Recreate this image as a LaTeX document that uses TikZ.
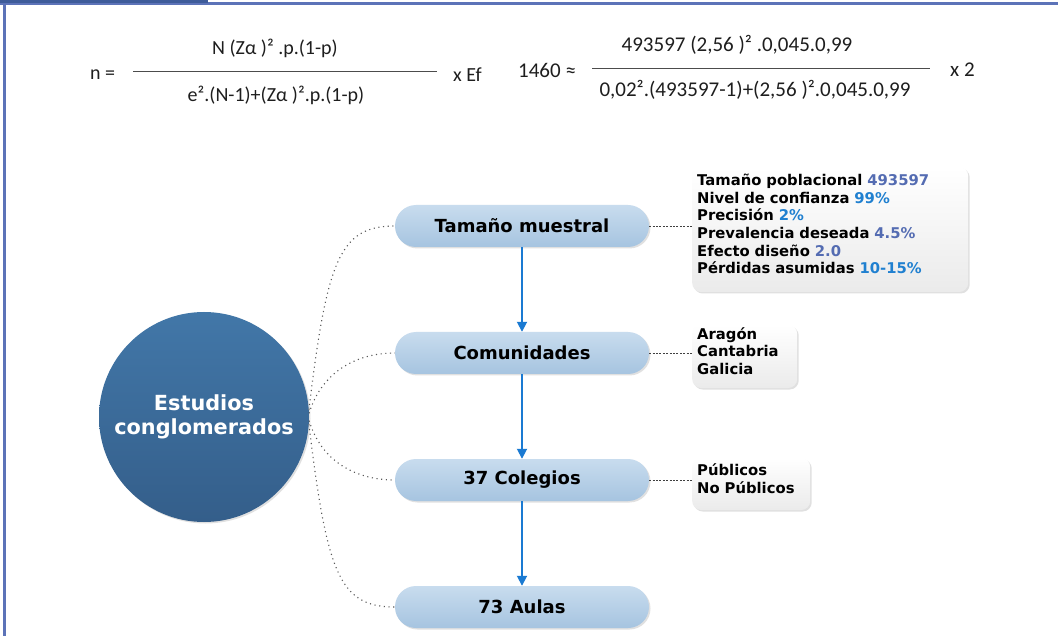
\documentclass[tikz,border=0pt]{standalone}
\usepackage{fontspec}
\setmainfont{DejaVu Sans}
\newfontfamily\calib{Carlito}
\usetikzlibrary{shadows,arrows.meta}
\definecolor{frameblue}{RGB}{92,115,184}
\definecolor{framedark}{RGB}{62,92,154}
\definecolor{boxtop}{RGB}{200,220,238}
\definecolor{boxbot}{RGB}{166,196,224}
\definecolor{circtop}{RGB}{66,119,168}
\definecolor{circbot}{RGB}{52,94,138}
\definecolor{arrowblue}{RGB}{26,122,210}
\definecolor{valslate}{RGB}{84,108,178}
\definecolor{valblue}{RGB}{32,128,208}
\definecolor{formtext}{RGB}{30,30,30}
\newcommand{\lowstrut}{\rule[-11pt]{0pt}{1pt}}
\begin{document}
\begin{tikzpicture}[x=1pt,y=-1pt,
  stagebox/.style={rounded corners=21pt, minimum width=254pt, minimum height=42pt,
    top color=boxtop, bottom color=boxbot, draw=none, inner sep=0pt,
    font=\bfseries\fontsize{18}{21}\selectfont,
    drop shadow={shadow xshift=1.5pt, shadow yshift=-1.5pt, opacity=0.2, fill=black!60}},
  infobox/.style={rounded corners=9pt, top color=white, bottom color=black!8,
    draw=none, align=left, inner xsep=5pt, inner ysep=0pt, anchor=west,
    font=\bfseries\fontsize{14.8}{17.6}\selectfont,
    drop shadow={shadow xshift=1.5pt, shadow yshift=-1.5pt, opacity=0.2, fill=black!60}},
  flowarrow/.style={draw=arrowblue, line width=1.8pt, -{Triangle[width=10pt,length=10pt]}},
  dotlink/.style={draw=black!65, line width=1.1pt, dash pattern=on 1.1pt off 3.6pt},
  dashlink/.style={draw=black!75, line width=0.9pt, dash pattern=on 2pt off 1.4pt},
  form1/.style={font=\calib\fontsize{20}{22}\selectfont, text=formtext, inner sep=0pt},
  form2/.style={font=\calib\fontsize{21}{24}\selectfont, text=formtext, inner sep=0pt},
  fracline/.style={draw=black!70, line width=0.9pt}
]
\useasboundingbox (0,0) rectangle (1058,636);
\fill[white] (0,0) rectangle (1058,636);
% frame
\fill[frameblue] (2.5,0) rectangle (6,636);
\fill[frameblue] (0,2) rectangle (1058,5);
\fill[framedark] (0,0) rectangle (208,3);

% formula 1
\node[form1, anchor=west] (n1) at (90,75) {n =};
\node[form1] (num1) at (275,48) {N (Zα )² .p.(1-p)};
\node[form1] (den1) at (276,95) {e².(N-1)+(Zα )².p.(1-p)};
\coordinate (f1a) at (133,71);
\coordinate (f1b) at (437,71);
\draw[fracline] (f1a) -- (f1b);
\node[form1, anchor=west] (ef) at (453,75) {x Ef};

% formula 2
\node[form2, anchor=west] (n2) at (518,70) {1460 ≈};
\node[form2] (num2) at (737,45) {493597 (2,56 )² .0,045.0,99};
\node[form2] (den2) at (755,90) {0,02².(493597-1)+(2,56 )².0,045.0,99};
\coordinate (f2a) at (592,68);
\coordinate (f2b) at (930,68);
\draw[fracline] (f2a) -- (f2b);
\node[form2, anchor=west] (x2) at (950,70) {x 2};

% circle
\node[circle, minimum size=210pt, inner sep=0pt, top color=circtop, bottom color=circbot,
  draw=none, text=white, align=center, font=\bfseries\fontsize{20.8}{24}\selectfont,
  drop shadow={shadow xshift=1.5pt, shadow yshift=-1.5pt, opacity=0.2, fill=black!60}]
  (circ) at (204,417) {Estudios\\conglomerados};

% stages
\node[stagebox] (tam) at (522,226) {Tamaño muestral};
\node[stagebox] (com) at (522,353) {Comunidades};
\node[stagebox] (col) at (522,480) {37 Colegios};
\node[stagebox] (aul) at (522,607) {73 Aulas};

\draw[flowarrow] (tam.south) -- (com.north);
\draw[flowarrow] (com.south) -- (col.north);
\draw[flowarrow] (col.south) -- (aul.north);

% dotted links
\draw[dotlink] (circ.4) .. controls +(18,-150) and +(-55,0) .. (tam.west);
\draw[dotlink] (circ.2) .. controls +(12,-40) and +(-40,0) .. (com.west);
\draw[dotlink] (circ.-2) .. controls +(12,40) and +(-40,0) .. (col.west);
\draw[dotlink] (circ.-4) .. controls +(18,150) and +(-55,0) .. (aul.west);

% info boxes
\node[infobox, text width=266pt, minimum height=125pt] (infoA) at (692,229.5) {%
Tamaño poblacional \textcolor{valslate}{493597}\\
Nivel de confianza \textcolor{valblue}{99\%}\\
Precisión \textcolor{valblue}{2\%}\\
Prevalencia deseada \textcolor{valslate}{4.5\%}\\
Efecto diseño \textcolor{valslate}{2.0}\\
Pérdidas asumidas \textcolor{valblue}{10-15\%}\lowstrut};
\node[infobox, text width=95pt, minimum height=63pt] (infoB) at (692,356.5) {%
Aragón\\Cantabria\\Galicia\lowstrut};
\node[infobox, text width=108pt, minimum height=52pt] (infoC) at (692,484) {%
Públicos\\No Públicos\lowstrut};

\draw[dashlink] (tam.east) -- (tam.east -| infoA.west);
\draw[dashlink] (com.east) -- (com.east -| infoB.west);
\draw[dashlink] (col.east) -- (col.east -| infoC.west);
\end{tikzpicture}
\end{document}
